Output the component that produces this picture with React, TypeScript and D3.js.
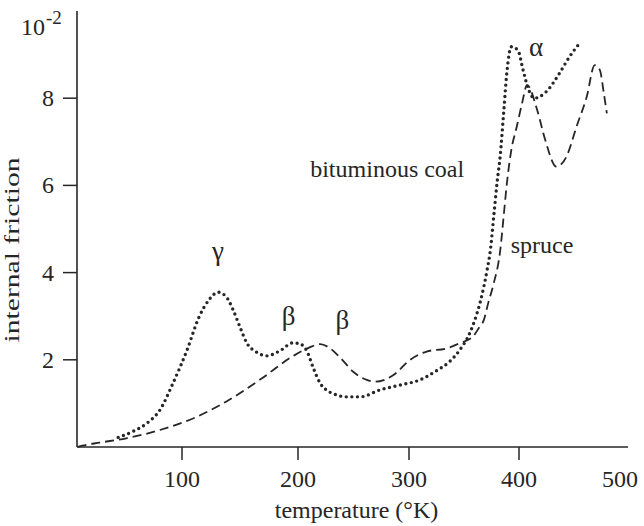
import React from "react";
import * as d3 from "d3";

// ---- data ----
const coalT = [45, 58, 70, 81, 92, 104, 115, 124, 131, 138, 144, 150, 156, 164, 173, 184, 196, 203, 208, 214, 220, 226, 232, 244, 256, 274, 292, 310, 325, 337, 346, 355, 361, 365, 371, 374, 377, 380, 383, 386, 389, 393, 399, 404, 409, 415, 427, 440, 450, 460];
const coalV = [0.22, 0.36, 0.55, 0.85, 1.45, 2.2, 3.0, 3.4, 3.55, 3.45, 3.15, 2.75, 2.38, 2.18, 2.09, 2.2, 2.39, 2.35, 2.2, 1.8, 1.46, 1.3, 1.22, 1.15, 1.15, 1.31, 1.42, 1.54, 1.75, 1.96, 2.22, 2.6, 3.0, 3.35, 4.06, 4.52, 5.28, 6.05, 6.7, 7.65, 8.6, 9.18, 9.1, 8.65, 8.23, 8.0, 8.15, 8.57, 8.95, 9.26];

const spruceT = [10, 14, 29, 52, 81, 110, 138, 167, 196, 210, 220, 228, 238, 250, 262, 270, 286, 301, 316, 334, 346, 358, 364, 368, 372, 377, 383, 386, 389, 393, 398, 403, 408, 418, 426, 437, 447, 457, 467, 475, 480, 484, 487];
const spruceV = [0.0, 0.03, 0.1, 0.2, 0.39, 0.66, 1.04, 1.54, 2.09, 2.28, 2.36, 2.28, 2.05, 1.72, 1.54, 1.5, 1.65, 2.0, 2.19, 2.26, 2.38, 2.53, 2.75, 2.91, 3.3, 3.75, 4.52, 5.28, 6.05, 6.81, 7.35, 7.88, 8.3, 7.73, 7.04, 6.43, 6.66, 7.35, 8.03, 8.76, 8.65, 8.11, 7.65];

const xTickValues = [100, 200, 300, 400];
const xTickLabels = ["100", "200", "300", "400", "500"];
const xLabelValues = [100, 200, 300, 400, 500];
const yTickValues = [2, 4, 6, 8];
const yTickLabels = ["2", "4", "6", "8"];

const xDomainStops = [0, 100, 200, 300, 400, 500];
const yDomain = [0, 10];

// annotations: [text, temperature, value]
const peakLabels: [string, number, number][] = [
  ["γ", 131, 4.3],
  ["β", 192, 2.8],
  ["β", 240, 2.7],
  ["α", 417, 8.97],
];
const seriesLabels: [string, number, number][] = [
  ["bituminous coal", 211, 6.2],
  ["spruce", 392.5, 4.45],
];

const FONT = "'Liberation Serif', 'Times New Roman', serif";
const INK = "#262626";

export default function App() {
  const x = d3.scaleLinear().domain(xDomainStops).range([66, 182, 298, 409, 519, 620]);
  const y = d3.scaleLinear().domain(yDomain).range([447, 11]);

  const line = d3
    .line<[number, number]>()
    .x((d) => x(d[0]))
    .y((d) => y(d[1]))
    .curve(d3.curveMonotoneX);

  const coal = coalT.map((t, i) => [t, coalV[i]] as [number, number]);
  const spruce = spruceT.map((t, i) => [t, spruceV[i]] as [number, number]);

  const axisX0 = 77;
  const axisX1 = 628;
  const axisY = y(0);

  return (
    <svg width={644} height={526} style={{ position: "absolute", left: 0, top: 0, background: "#fff" }}>
      {/* axes */}
      <line x1={axisX0} x2={axisX0} y1={y(10)} y2={axisY} stroke={INK} strokeWidth={1.6} />
      <line x1={axisX0} x2={axisX1} y1={axisY} y2={axisY} stroke={INK} strokeWidth={1.6} />

      {xTickValues.map((v) => (
        <line key={"xt" + v} x1={x(v)} x2={x(v)} y1={axisY} y2={axisY + 13} stroke={INK} strokeWidth={1.5} />
      ))}
      {xLabelValues.map((v, i) => (
        <text key={"xl" + v} x={x(v)} y={487} textAnchor="middle" fontFamily={FONT} fontSize={24} fill={INK}>
          {xTickLabels[i]}
        </text>
      ))}

      {yTickValues.map((v, i) => (
        <g key={"yt" + v}>
          <line x1={axisX0 - 14} x2={axisX0} y1={y(v)} y2={y(v)} stroke={INK} strokeWidth={1.5} />
          <text x={54} y={y(v) + 8} textAnchor="end" fontFamily={FONT} fontSize={24} fill={INK}>
            {yTickLabels[i]}
          </text>
        </g>
      ))}

      {/* 10^-2 at top */}
      <text x={21} y={35} fontFamily={FONT} fontSize={24} fill={INK}>
        10
        <tspan dx={1} dy={-11} fontSize={19}>-2</tspan>
      </text>

      {/* axis titles */}
      <text x={356.5} y={518} textAnchor="middle" fontFamily={FONT} fontSize={24} fill={INK}>
        temperature (°K)
      </text>
      <text
        transform={`translate(19,250) rotate(-90)`}
        textAnchor="middle"
        fontFamily={FONT}
        fontSize={20}
        fill={INK}
        textLength={185}
        lengthAdjust="spacingAndGlyphs"
      >
        internal friction
      </text>

      {/* curves */}
      <path d={line(spruce) || ""} fill="none" stroke={INK} strokeWidth={1.8} strokeDasharray="9 5" />
      <path d={line(coal) || ""} fill="none" stroke={INK} strokeWidth={3.4} strokeDasharray="0 5.6" strokeLinecap="round" />

      {/* annotations */}
      {peakLabels.map(([t, tv, vv], i) => (
        <text key={"pk" + i} x={x(tv)} y={y(vv)} textAnchor="middle" fontFamily={FONT} fontSize={27} fill={INK}>
          {t}
        </text>
      ))}
      {seriesLabels.map(([t, tv, vv], i) => (
        <text key={"sl" + i} x={x(tv)} y={y(vv)} fontFamily={FONT} fontSize={24} fill={INK}>
          {t}
        </text>
      ))}
    </svg>
  );
}
